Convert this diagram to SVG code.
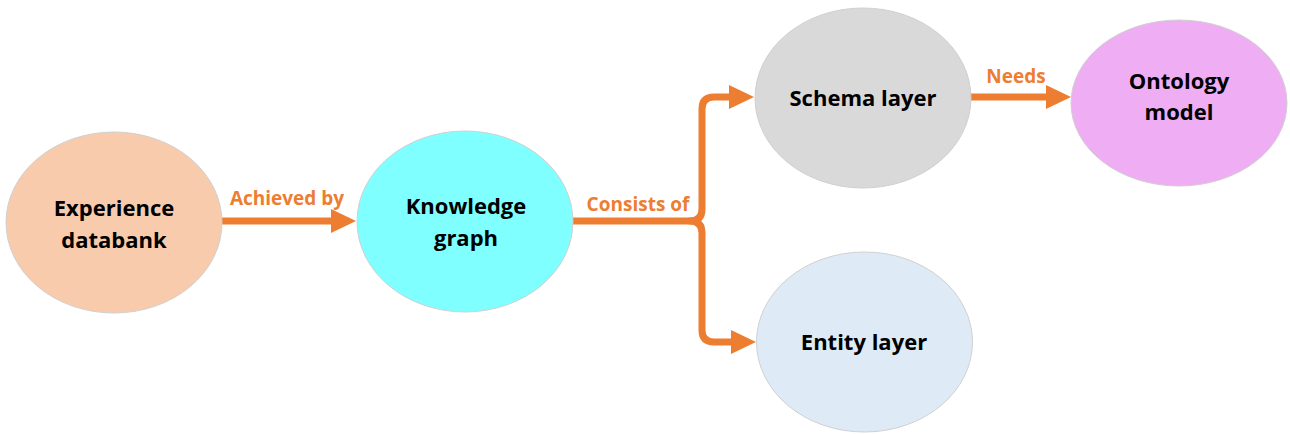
<svg xmlns="http://www.w3.org/2000/svg" width="1290" height="434" viewBox="0 0 1290 434">
  <style>
    .node { stroke: #d0d0d0; stroke-width: 1; }
    .ntext { font-family: "Open Sans", "Liberation Sans", sans-serif; font-weight: bold; font-size: 22px; fill: #000; text-anchor: middle; }
    .edge { fill: none; stroke: #ED7D31; stroke-width: 7; stroke-linecap: round; stroke-linejoin: round; }
    .elabel { font-family: "Open Sans", "Liberation Sans", sans-serif; font-weight: bold; font-size: 19px; fill: #ED7D31; text-anchor: middle; }
  </style>
  <defs>
    <marker id="arrow" markerUnits="userSpaceOnUse" markerWidth="26" markerHeight="26" viewBox="0 0 26 26" refX="2" refY="13" orient="auto">
      <path d="M0,1 L25,13 L0,25 Z" fill="#ED7D31"/>
    </marker>
  </defs>

  <rect width="1290" height="434" fill="#fff"/>

  <!-- connectors -->
  <g id="connectors">
    <path class="edge" d="M223,221 H333" marker-end="url(#arrow)"/>
    <path class="edge" d="M572,221 H690 Q702,221 702,209 V109 Q702,97 714,97 H731" marker-end="url(#arrow)"/>
    <path class="edge" d="M690,221 Q702,221 702,233 V330 Q702,342 714,342 H733" marker-end="url(#arrow)"/>
    <path class="edge" d="M969,97 H1048" marker-end="url(#arrow)"/>
    <text class="elabel" x="287" y="205">Achieved by</text>
    <text class="elabel" x="638" y="211">Consists of</text>
    <text class="elabel" x="1016" y="83">Needs</text>
  </g>

  <g id="experience-databank">
    <ellipse class="node" cx="114" cy="222.5" rx="108" ry="90.5" fill="#F8CBAD"/>
    <text class="ntext" x="114" y="216">Experience</text>
    <text class="ntext" x="114" y="248">databank</text>
  </g>

  <g id="knowledge-graph">
    <ellipse class="node" cx="465" cy="221.5" rx="108" ry="90.5" fill="#7FFFFF"/>
    <text class="ntext" x="466" y="214">Knowledge</text>
    <text class="ntext" x="466" y="246">graph</text>
  </g>

  <g id="schema-layer">
    <ellipse class="node" cx="863" cy="98" rx="108" ry="90" fill="#D9D9D9"/>
    <text class="ntext" x="863" y="106">Schema layer</text>
  </g>

  <g id="entity-layer">
    <ellipse class="node" cx="864.5" cy="342" rx="108" ry="90" fill="#DEEBF7"/>
    <text class="ntext" x="864" y="350">Entity layer</text>
  </g>

  <g id="ontology-model">
    <ellipse class="node" cx="1179" cy="103" rx="108" ry="83" fill="#EFADF3"/>
    <text class="ntext" x="1179" y="89">Ontology</text>
    <text class="ntext" x="1179" y="120">model</text>
  </g>
</svg>
